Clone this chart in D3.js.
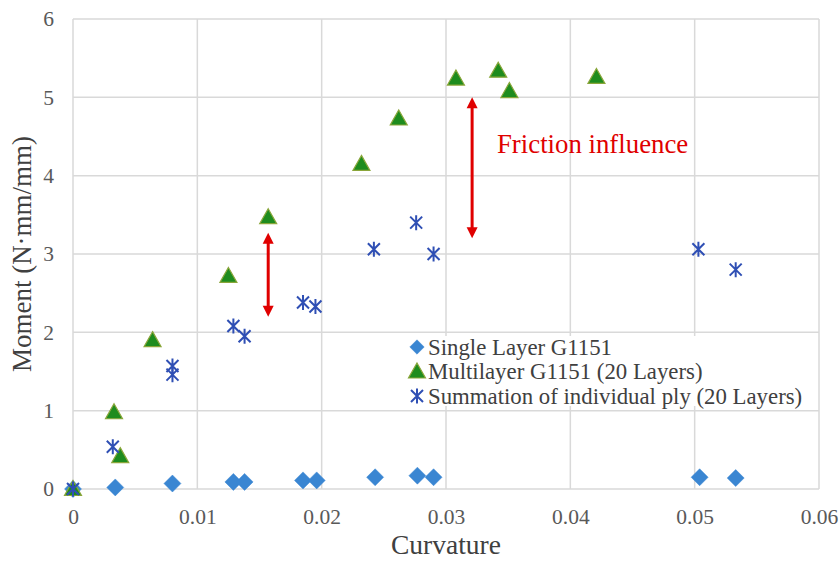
<!DOCTYPE html>
<html><head><meta charset="utf-8">
<script src="https://cdn.jsdelivr.net/npm/d3@7"></script>
<style>body{margin:0;background:#fff}svg{display:block}</style>
</head><body><svg id="c" width="840" height="564"></svg>
<script>
// ---- data ----
const singleX = [0, 0.0034, 0.0080, 0.0129, 0.0138, 0.0185, 0.0196, 0.0243, 0.0277, 0.0290, 0.0504, 0.0533];
const singleY = [0, 0.02, 0.07, 0.09, 0.09, 0.11, 0.11, 0.15, 0.17, 0.15, 0.15, 0.14];
const multiX  = [0, 0.0033, 0.0038, 0.0064, 0.0125, 0.0157, 0.0232, 0.0262, 0.0308, 0.0342, 0.0351, 0.0421];
const multiY  = [0, 0.98, 0.42, 1.90, 2.72, 3.47, 4.15, 4.73, 5.24, 5.34, 5.08, 5.26];
const sumX    = [0, 0.0032, 0.0080, 0.0080, 0.0129, 0.0138, 0.0185, 0.0195, 0.0242, 0.0276, 0.0290, 0.0503, 0.0533];
const sumY    = [0, 0.54, 1.57, 1.46, 2.08, 1.95, 2.38, 2.33, 3.06, 3.40, 3.00, 3.06, 2.80];
const xTicks = [0, 0.01, 0.02, 0.03, 0.04, 0.05, 0.06];
const xTickLabels = ["0", "0.01", "0.02", "0.03", "0.04", "0.05", "0.06"];
const yTicks = [0, 1, 2, 3, 4, 5, 6];
const seriesNames = ["Single Layer G1151", "Multilayer G1151 (20 Layers)", "Summation of individual ply (20 Layers)"];
const arrowX = [0.0157, 0.0321];
const arrowTop = [3.27, 5.0];
const arrowBottom = [2.20, 3.20];
const noteText = "Friction influence";
const noteX = 0.0341, noteY = 4.29;

// ---- layout ----
const svg = d3.select("#c");
const x = d3.scaleLinear().domain([0, 0.06]).range([73, 819]);
const y = d3.scaleLinear().domain([0, 6]).range([489, 19]);
const FONT = "'Liberation Serif','Times New Roman',serif";
const gridC = "#d9d9d9";

// gridlines
const g = svg.append("g");
g.selectAll("line.h").data(yTicks).join("line")
  .attr("x1", x(0)).attr("x2", x(0.06))
  .attr("y1", d => y(d)).attr("y2", d => y(d))
  .attr("stroke", gridC).attr("stroke-width", 1.5);
g.selectAll("line.v").data(xTicks).join("line")
  .attr("y1", y(0)).attr("y2", y(6))
  .attr("x1", d => x(d)).attr("x2", d => x(d))
  .attr("stroke", gridC).attr("stroke-width", 1.5);

// axes (labels only)
const xAxis = d3.axisBottom(x).tickValues(xTicks).tickFormat((d, i) => xTickLabels[i]).tickSize(0).tickPadding(20);
const yAxis = d3.axisLeft(y).tickValues(yTicks).tickFormat(d3.format("d")).tickSize(0).tickPadding(19);
const xa = svg.append("g").attr("transform", `translate(0,${y(0)})`).call(xAxis);
const ya = svg.append("g").attr("transform", `translate(${x(0)},0)`).call(yAxis);
[xa, ya].forEach(a => {
  a.select(".domain").remove();
  a.selectAll("text").attr("font-family", FONT).attr("font-size", 21.5).attr("fill", "#595959");
});

// axis titles
svg.append("text").attr("x", (x(0) + x(0.06)) / 2).attr("y", 554)
  .attr("text-anchor", "middle").attr("font-family", FONT).attr("font-size", 27.5).attr("fill", "#404040")
  .text("Curvature");
svg.append("text").attr("transform", `translate(31,${(y(0) + y(6)) / 2}) rotate(-90)`)
  .attr("text-anchor", "middle").attr("font-family", FONT).attr("font-size", 27).attr("fill", "#404040")
  .text("Moment (N·mm/mm)");

// legend background
const legX = 400, legY = 336;
svg.append("rect").attr("x", legX).attr("y", legY).attr("width", 414).attr("height", 70).attr("fill", "#fff");

// marker drawers
const diamondPath = "M0,-8.5L8.5,0L0,8.5L-8.5,0Z";
const triPath = "M0,-8.5L8.5,6.5L-8.5,6.5Z";
function drawDiamond(sel) {
  sel.append("path").attr("d", diamondPath).attr("fill", "#3a86d2").attr("stroke", "#3a86d2").attr("stroke-width", 0.5);
}
function drawTri(sel) {
  sel.append("path").attr("d", triPath).attr("fill", "#1e8c1e").attr("stroke", "#8aa63a").attr("stroke-width", 1.2);
}
function drawStar(sel) {
  const s = 6;
  sel.append("path").attr("d", `M${-s},${-s}L${s},${s}M${-s},${s}L${s},${-s}M0,${-s - 1.5}L0,${s + 1.5}`)
    .attr("stroke", "#2f4fb4").attr("stroke-width", 2).attr("fill", "none");
}

// series
const single = singleX.map((v, i) => [v, singleY[i]]);
const multi = multiX.map((v, i) => [v, multiY[i]]);
const summ = sumX.map((v, i) => [v, sumY[i]]);
svg.append("g").selectAll("g").data(single).join("g")
  .attr("transform", d => `translate(${x(d[0])},${y(d[1])})`).each(function () { drawDiamond(d3.select(this)); });
svg.append("g").selectAll("g").data(multi).join("g")
  .attr("transform", d => `translate(${x(d[0])},${y(d[1])})`).each(function () { drawTri(d3.select(this)); });
svg.append("g").selectAll("g").data(summ).join("g")
  .attr("transform", d => `translate(${x(d[0])},${y(d[1])})`).each(function () { drawStar(d3.select(this)); });

// legend entries
const drawers = [drawDiamond, drawTri, drawStar];
seriesNames.forEach((name, i) => {
  const cy = 347 + i * 24.5;
  const m = svg.append("g").attr("transform", `translate(417,${cy})`);
  if (i === 0) m.attr("transform", `translate(417,${cy}) scale(0.85)`);
  drawers[i](m);
  svg.append("text").attr("x", 428).attr("y", cy + 7.5).attr("font-family", FONT).attr("font-size", 22.8)
    .attr("fill", "#404040").text(name);
});

// arrows
const red = "#e00000";
arrowX.forEach((ax, i) => {
  const px = x(ax), t = y(arrowTop[i]), b = y(arrowBottom[i]);
  const hl = 11, hw = 5.5;
  svg.append("line").attr("x1", px).attr("x2", px).attr("y1", t + hl - 1).attr("y2", b - hl + 1)
    .attr("stroke", red).attr("stroke-width", 3);
  svg.append("path").attr("d", `M${px},${t}L${px + hw},${t + hl}L${px - hw},${t + hl}Z`).attr("fill", red);
  svg.append("path").attr("d", `M${px},${b}L${px + hw},${b - hl}L${px - hw},${b - hl}Z`).attr("fill", red);
});

svg.append("text").attr("x", x(noteX)).attr("y", y(noteY)).attr("font-family", FONT).attr("font-size", 26.8)
  .attr("fill", red).text(noteText);
</script></body></html>
